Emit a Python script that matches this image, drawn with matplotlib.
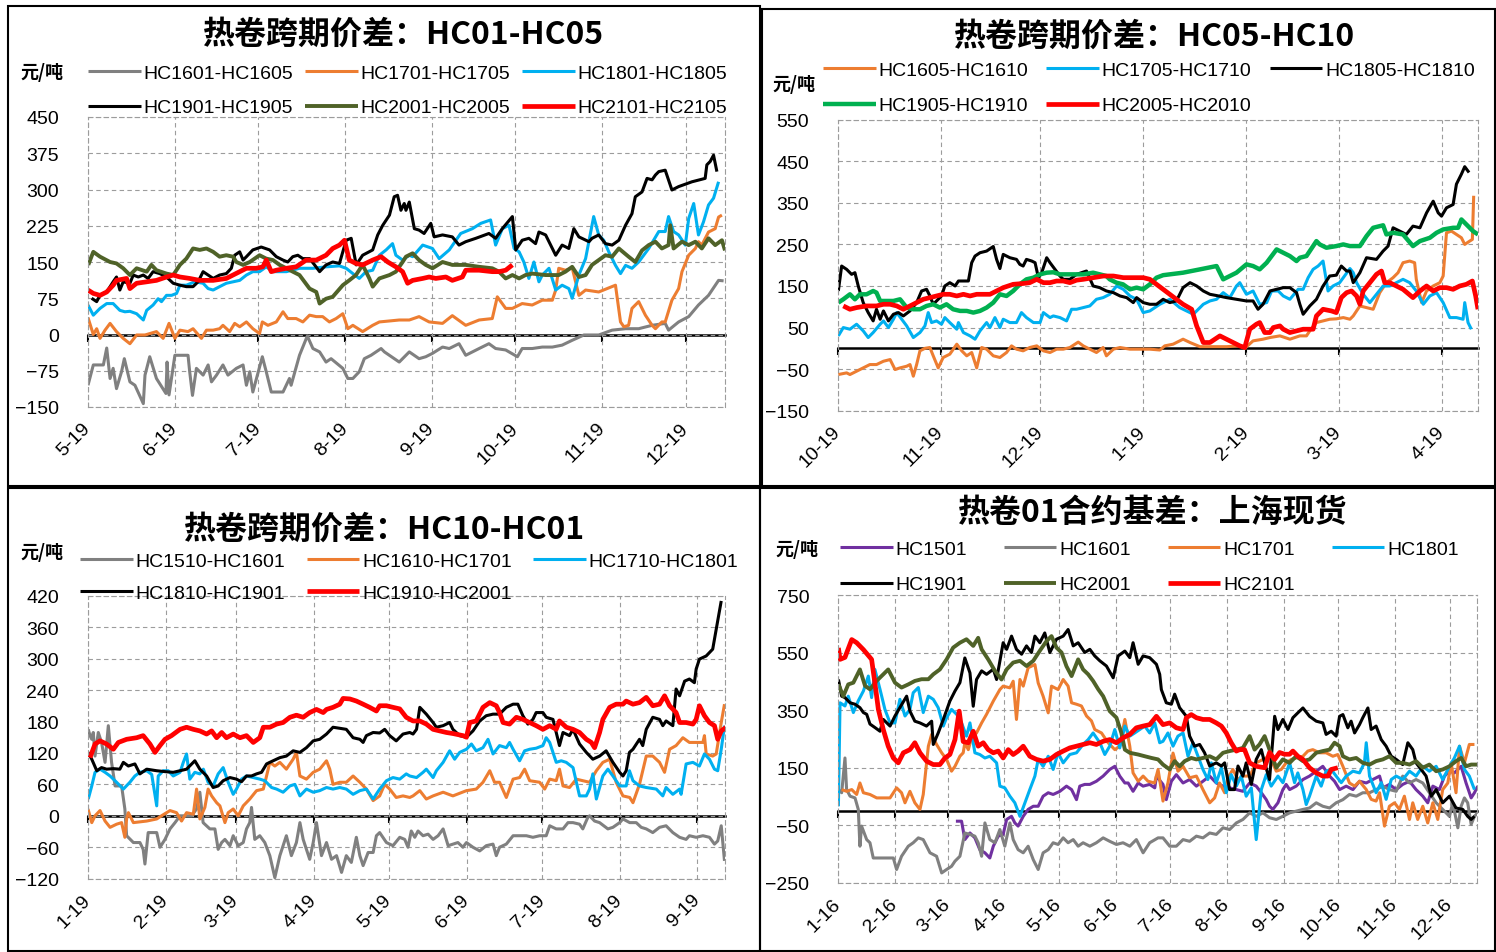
import numpy as np
import matplotlib
matplotlib.use("Agg")
import matplotlib.pyplot as plt
from matplotlib.patches import Rectangle

# ======================= DATA =======================
# ---- Panel 1: HC01-HC05 spreads, x = days since 1 May ----
P1_TITLE = "热卷跨期价差：HC01-HC05"
P1_TICK_LABELS = ["5-19", "6-19", "7-19", "8-19", "9-19", "10-19", "11-19", "12-19"]
P1_TICK_DAYS = [0, 31, 61, 92, 123, 153, 184, 214]
P1_YTICKS = [-150, -75, 0, 75, 150, 225, 300, 375, 450]
P1_NAMES = ["HC1601-HC1605", "HC1701-HC1705", "HC1801-HC1805",
            "HC1901-HC1905", "HC2001-HC2005", "HC2101-HC2105"]
P1_HC1601 = [(0,-105),(1.9,-63),(5.5,-63),(6.7,-28),(7.9,-91),(9,-70),(10.2,-112),(12,-77),(13,-50),(15,-98),
             (16.8,-105),(19.8,-143),(20.4,-84),(22.1,-46),(24.5,-91),(27.9,-122),(28.3,-57),(29,-125),(31.1,-43),
             (35.8,-43),(36.4,-77),(37.4,-126),(38.8,-70),(41.2,-84),(43,-63),(44.2,-98),(46,-84),(48.3,-63),
             (50.1,-84),(53.1,-70),(55.5,-63),(56.7,-105),(57.9,-77),(59,-119),(62.4,-46),(63.8,-77),(65.6,-119),
             (69.8,-119),(72.1,-91),(72.7,-105),(75.7,-43),(78.5,-3),(80.5,-29),(82.9,-36),(85.2,-57),(87,-50),
             (91.2,-70),(93,-91),(94.8,-91),(97.1,-77),(98.9,-50),(101.3,-43),(104.9,-29),(106.1,-36),(111.4,-57),
             (115,-36),(118.5,-50),(120.9,-46),(123.3,-39),(126.9,-26),(129.3,-29),(132.8,-19),(135.2,-43),
             (140,-29),(143.5,-19),(145.9,-29),(149.5,-32),(153.7,-46),(155.4,-29),(159,-29),(162.6,-26),
             (166.2,-26),(169.7,-22),(173.3,-12),(177.5,-1),(182.8,-1),(187.6,9),(192.4,12),(197.1,12),
             (201.9,19),(206.6,23),(207.8,9),(211.4,26),(215,37),(218.5,61),(222.1,81),(225.7,112),(227.5,111)]
P1_HC1701 = [(0,35),(1.9,0),(3.1,12),(4.3,-8),(6.1,9),(7.9,23),(10.2,6),(12.6,-8),(15,-19),(17.4,-1),(20.4,-1),
             (24.5,6),(26.9,-8),(29,23),(31.1,-8),(32.9,9),(35.8,6),(37.6,12),(40.6,-8),(42.4,9),(44.8,9),
             (47.1,12),(48.3,19),(50.7,6),(52.5,23),(54.3,16),(56.7,26),(59,12),(61.4,2),(62.4,26),(64.4,19),
             (67.4,26),(69.8,47),(71.5,33),(74.5,33),(76.9,26),(79.3,40),(81.7,37),(84,37),(86.4,26),(88.8,33),
             (91.2,43),(93,12),(94.8,19),(98.3,6),(101.9,19),(104.3,26),(107.9,28),(111.4,30),(115,30),
             (118.5,37),(122.1,26),(126.9,23),(130.4,39),(135.2,19),(140,30),(144.7,33),(146.5,78),(149.5,54),
             (151.9,54),(155.4,64),(159,61),(162.6,71),(166.2,71),(167.4,92),(168.5,137),(170.9,133),
             (173.3,138),(175.7,81),(178.1,92),(182.8,88),(188.8,102),(190.6,26),(191.8,16),(193.5,19),
             (194.7,54),(197.1,68),(199.5,40),(201.9,19),(203.1,12),(205.4,26),(206.6,26),(209,71),(211.4,95),
             (212.6,130),(215,164),(217.4,178),(218.5,192),(219.7,185),(222.1,212),(224.5,219),(225.7,243),
             (226.9,247)]
P1_HC1801 = [(0,61),(1.9,40),(4.3,54),(6.7,64),(9,64),(11.4,50),(13.2,47),(15,48),(17.4,43),(19.8,30),(21,50),
             (23.3,61),(25.1,74),(26.3,68),(28.1,81),(29.9,81),(31.7,85),(32.9,102),(35.2,102),(38.2,109),
             (41.2,106),(43,95),(44.8,92),(47.1,99),(49.5,106),(51.9,109),(54.3,112),(56.7,123),(59,130),
             (61.4,130),(63.8,140),(66.2,130),(71,130),(75.7,137),(80.5,137),(85.2,140),(90,142),(92.4,137),
             (94.8,126),(97.1,116),(99.5,130),(101.9,133),(104.3,164),(106.7,175),(109,188),(110.2,164),
             (112.6,154),(115,164),(116.2,161),(119.8,185),(123.3,178),(125.7,157),(129.3,175),(133.4,209),
             (137.6,219),(140.6,230),(144.1,237),(145.9,185),(148.3,219),(150.7,226),(152.5,178),(154.3,171),
             (156,150),(157.8,116),(159.6,150),(161.4,109),(162.6,123),(165,137),(167.4,92),(169.7,102),
             (172.1,95),(173.3,75),(175.7,123),(178.1,157),(181,244),(182.8,206),(184.6,195),(186.4,171),
             (188.8,143),(190.6,126),(192.4,143),(194.7,137),(197.1,150),(200.7,178),(204.3,213),(206.6,213),
             (207.8,244),(209.6,213),(211.4,206),(213.8,185),(215,240),(216.8,271),(218.5,206),(220.3,233),
             (222.1,268),(223.9,282),(225.7,316)]
P1_HC1901 = [(1.3,75),(3.1,68),(4.3,81),(6.7,88),(9,109),(10.2,119),(11.4,92),(12.6,109),(15,106),(16.2,123),
             (18,119),(19.8,123),(21.5,116),(23.3,130),(25.7,126),(28.1,119),(30.5,106),(32.9,102),(35.2,99),
             (37.6,99),(39.4,109),(41.2,130),(43,123),(44.8,116),(47.1,123),(49.5,126),(51.3,137),(52.5,164),
             (54.3,171),(55.5,154),(56.7,161),(59,175),(62,181),(65,175),(67.4,161),(69.8,154),(71.5,150),
             (73.3,161),(75.1,164),(76.9,157),(79.3,157),(81.1,144),(82.9,130),(85.2,144),(87.6,150),(90,147),
             (92.4,195),(94.2,199),(96,144),(98.3,164),(101.9,175),(103.7,206),(105.5,226),(107.9,247),
             (109.6,285),(110.8,288),(112,257),(113.2,271),(113.8,257),(115,274),(116.8,219),(118.5,216),
             (120.3,209),(122.7,230),(123.9,202),(126.9,206),(130.4,202),(132.8,185),(135.2,192),(138.8,199),
             (143.5,209),(145.9,199),(148.3,219),(151.9,244),(153.1,175),(155.4,195),(157.8,199),(160.2,188),
             (161.4,212),(163.8,206),(167.4,164),(169.7,185),(172.1,178),(173.9,219),(175.7,202),(179.3,192),
             (180.4,199),(182.8,206),(185.2,188),(187.6,185),(190,195),(192.4,226),(194.7,250),(195.9,285),
             (198.3,295),(200.1,323),(201.9,320),(203.1,330),(204.3,337),(206.6,340),(209,299),(211.4,306),
             (216.2,316),(220.9,323),(221.5,351),(222.7,358),(223.9,371),(225.1,337)]
P1_HC2001 = [(0.1,144),(1.9,171),(4.3,161),(7.9,150),(10.2,147),(12.6,137),(15,123),(17.4,137),(21,130),
             (22.7,144),(24.5,133),(28.1,126),(30.5,123),(32.9,144),(35.2,157),(37.6,178),(40,175),(42.4,178),
             (44.8,171),(47.1,161),(49.5,164),(51.9,161),(53.1,150),(55.5,144),(57.9,150),(61.4,164),(63.8,157),
             (66.2,154),(68.6,144),(71,137),(73.3,130),(75.7,123),(79.3,95),(81.7,88),(82.9,64),(85.2,74),
             (87.6,78),(91.2,102),(93.5,112),(95.9,123),(98.3,144),(100.7,116),(101.9,99),(104.3,116),
             (107.9,123),(110.2,130),(112.6,150),(113.8,161),(116.2,168),(118.5,154),(120.9,144),(123.3,137),
             (126.9,150),(130.4,144),(135.2,144),(140,140),(144.7,137),(147.1,130),(149.5,116),(151.9,123),
             (154.3,116),(156.6,123),(159,126),(163.8,123),(168.5,123),(170.9,130),(173.3,140),(175.7,119),
             (178.1,123),(180.4,144),(182.8,154),(185.2,164),(187.6,161),(190,178),(193.5,161),(195.9,150),
             (198.3,174),(200.7,185),(203.1,192),(205.4,178),(207.8,185),(208.4,226),(209.6,178),(212.6,192),
             (215,185),(217.4,192),(219.7,178),(222.1,199),(224.5,185),(226.9,195),(228,174)]
P1_HC2101 = [(0,92),(1.9,85),(4.3,81),(6.7,88),(9,102),(10.2,112),(13.8,116),(15,95),(17.4,106),(21,109),
             (24.5,112),(28.1,119),(30.5,123),(32.9,119),(36.4,116),(40,112),(44.8,112),(49.5,116),(51.9,123),
             (54.3,130),(56.7,137),(60.2,137),(62.6,140),(63.8,154),(65.6,130),(67.4,133),(71,137),(74.5,140),
             (78.1,154),(81.7,154),(85.2,164),(87.6,178),(90,185),(91.8,195),(93.5,154),(95.9,147),(98.3,144),
             (101.9,154),(104.9,161),(107.3,150),(110.2,140),(112.6,130),(114.4,106),(116.2,112),(119.8,116),
             (122.1,119),(124.5,116),(128.1,119),(130.4,112),(134,119),(135.2,133),(140,133),(144.7,130),
             (147.1,130),(149.5,133),(151.9,144)]

# ---- Panel 2: HC05-HC10 spreads, x = days since 1 Oct ----
P2_TITLE = "热卷跨期价差：HC05-HC10"
P2_TICK_LABELS = ["10-19", "11-19", "12-19", "1-19", "2-19", "3-19", "4-19"]
P2_TICK_DAYS = [0, 31, 61, 92, 123, 151, 182]
P2_YTICKS = [-150, -50, 50, 150, 250, 350, 450, 550]
P2_NAMES = ["HC1605-HC1610", "HC1705-HC1710", "HC1805-HC1810", "HC1905-HC1910", "HC2005-HC2010"]
P2_HC1605 = [(0.1,-63),(2.6,-59),(3.6,-63),(5.6,-55),(7.6,-47),(9.6,-39),(11.6,-39),(13.7,-31),(15.7,-27),
             (17.2,-51),(18.7,-47),(20.7,-43),(21.7,-39),(22.7,-67),(23.7,-39),(24.7,-6),(26.2,0),(27.7,2),
             (28.7,-18),(30.2,-47),(31.7,-22),(33.7,-14),(35.8,10),(37.3,-6),(38.8,-18),(40.3,-10),(41.8,-47),
             (43.3,2),(44.8,-2),(46.8,-18),(48.8,-22),(50.8,-10),(52.3,6),(53.8,-2),(55.8,-6),(57.8,2),(59.9,6),
             (61.9,-6),(63.9,-10),(65.9,-2),(67.9,-2),(69.9,2),(72.4,15),(73.9,6),(75.9,-2),(77.9,-10),(79.9,2),
             (80.9,-18),(83,-2),(85,2),(88,-2),(91,-2),(94,-2),(97,-4),(98.5,6),(101,10),(104,22),(106.1,14),
             (109.1,4),(112.1,4),(117.1,4),(121.1,6),(122.6,0),(125.1,18),(128.1,22),(130.2,26),(133.2,30),
             (136.2,22),(139.2,30),(141.2,30),(142.2,42),(144.2,62),(146.2,66),(148.2,70),(150.2,71),(152.3,74),
             (154.3,70),(155.3,78),(157.3,102),(159.3,98),(161.3,94),(163.3,134),(165.3,158),(167.3,170),
             (168.8,182),(170.3,206),(172.3,210),(173.8,206),(174.3,166),(175.9,110),(177.4,138),(179.4,150),
             (181.4,158),(182.4,174),(183.4,278),(184.9,282),(186.4,274),(187.9,266),(188.9,250),(190.4,258),
             (191.2,262),(191.6,367)]
P2_HC1705 = [(0.1,30),(1.6,50),(3.6,46),(5.6,58),(7.6,42),(9.1,26),(10.6,38),(12.7,58),(13.7,66),(15.2,50),
             (16.7,70),(17.7,86),(19.2,70),(20.7,54),(22.7,26),(24.7,38),(26.2,54),(27.2,86),(28.2,62),(29.7,66),
             (31.2,58),(32.2,74),(33.7,62),(35.8,46),(36.3,62),(37.8,38),(39.8,30),(41.3,22),(42.8,42),(44.8,62),
             (45.8,50),(47.3,74),(48.8,50),(49.8,70),(51.8,62),(53.8,62),(55.3,86),(56.8,74),(58.9,62),(60.9,62),
             (61.9,86),(63.9,74),(64.9,78),(66.9,74),(68.9,66),(70.4,94),(71.9,94),(73.9,98),(75.9,102),
             (77.9,118),(79.9,122),(81.9,130),(84,150),(86,142),(88,126),(90,118),(92,86),(94,90),(97,106),
             (100,118),(103,98),(107.1,82),(110.1,106),(112.1,114),(114.1,118),(116.1,134),(118.1,122),
             (120.1,150),(121.1,158),(123.1,130),(125.1,138),(127.1,106),(129.2,110),(130.7,138),(132.7,138),
             (134.2,126),(136.2,118),(138.7,142),(140.2,142),(141.7,170),(143.2,190),(144.7,198),(146.2,210),
             (147.7,138),(149.2,150),(151.2,158),(152.3,170),(154.3,192),(155.3,182),(156.3,158),(158.3,130),
             (160.3,110),(162.3,130),(164.3,150),(166.3,150),(168.3,158),(170.3,166),(172.3,158),(174.3,138),
             (176.4,106),(178.4,126),(180.4,134),(182.4,110),(184.4,74),(186.4,74),(188.4,70),(188.9,110),
             (189.9,62),(190.9,46)]
P2_HC1805 = [(0.1,138),(1.1,198),(2.6,190),(4.1,178),(5.1,182),(6.1,150),(7.6,110),(9.1,86),(10.6,66),(11.6,94),
             (12.7,70),(13.7,90),(15.2,66),(16.7,82),(18.2,86),(19.7,78),(21.7,90),(23.7,110),(25.2,138),
             (26.7,142),(27.7,126),(28.7,106),(29.7,114),(31.2,126),(32.2,150),(33.7,158),(35.3,150),(36.3,162),
             (37.8,162),(39.3,162),(40.3,206),(41.3,222),(42.8,230),(44.8,234),(46.8,245),(47.8,214),(48.8,192),
             (49.8,226),(51.8,218),(53.8,214),(54.8,202),(55.8,198),(56.8,214),(58.4,210),(59.4,206),(60.4,170),
             (61.4,182),(62.9,218),(63.9,206),(65.4,190),(66.9,174),(67.9,166),(69.9,166),(71.9,178),(74.9,186),
             (76.9,150),(78.9,146),(80.9,138),(83,134),(85,126),(87,122),(89,110),(90,122),(92,110),(94,106),
             (96,106),(98,118),(100,110),(102,114),(104,146),(106.1,158),(108.1,150),(110.1,138),(112.1,130),
             (114.1,127),(117.1,122),(120.1,118),(123.1,114),(125.1,114),(126.6,94),(128.1,106),(130.2,138),
             (132.2,142),(134.2,146),(136.2,146),(138.2,134),(139.2,106),(140.2,82),(142.2,102),(144.2,118),
             (146.2,150),(148.2,174),(150.2,176),(151.7,198),(153.3,186),(154.3,186),(155.3,158),(157.3,182),
             (159.3,218),(162.3,214),(164.3,234),(165.8,246),(167.3,290),(169.3,282),(171.3,274),(173.3,294),
             (175.4,290),(177.4,326),(179.4,354),(180.9,326),(181.9,318),(183.4,338),(185.4,346),(186.4,395),
             (187.9,419),(188.9,437),(190.2,423)]
P2_HC1905 = [(0.1,110),(1.6,118),(3.6,130),(5.1,118),(6.6,130),(8.6,130),(10.6,138),(11.6,134),(12.7,114),
             (14.7,114),(16.7,114),(18.7,118),(20.7,98),(22.7,94),(24.7,94),(26.7,102),(28.7,106),(30.7,98),
             (32.7,106),(34.7,94),(36.8,90),(38.8,90),(40.8,86),(42.8,90),(44.8,98),(46.8,110),(48.8,130),
             (50.8,126),(52.8,138),(54.8,154),(56.8,166),(58.9,170),(60.9,178),(62.9,182),(64.9,183),(66.9,178),
             (70.9,178),(73.9,178),(76.9,182),(78.9,178),(80.9,174),(81.9,166),(83.9,158),(85.9,154),(88,142),
             (90,146),(92,142),(94,154),(96,170),(98,176),(100,178),(104,182),(109.1,190),(114.1,198),(116.1,166),
             (118.1,174),(120.1,182),(123.1,202),(125.1,198),(127.1,190),(129.2,206),(132.2,238),(134.2,230),
             (136.2,222),(138.2,210),(139.2,218),(141.2,222),(143.2,246),(144.2,258),(145.2,250),(147.2,242),
             (150.2,246),(152.3,250),(154.3,246),(157.3,246),(159.3,270),(161.3,290),(164.3,296),(165.3,274),
             (167.3,278),(170.3,274),(173.3,246),(175.4,258),(178.4,266),(180.4,278),(182.4,286),(185.4,290),
             (186.9,290),(187.9,310),(189.4,298),(191.4,282),(192.9,274)]
P2_HC2005 = [(1.6,102),(3.6,94),(5.6,98),(8.6,102),(11.6,102),(13.7,106),(15.7,106),(17.7,102),(19.7,94),
             (21.7,102),(23.7,110),(25.7,118),(27.7,122),(29.7,126),(31.7,130),(33.7,130),(35.8,126),(37.8,130),
             (39.8,126),(41.8,130),(45.8,130),(47.8,138),(49.8,146),(52.8,154),(55.8,156),(57.8,158),(59.9,166),
             (61.9,158),(63.9,158),(65.9,162),(67.9,162),(69.9,158),(71.9,164),(73.9,166),(76.9,170),(80,174),
             (83,174),(86,170),(89,170),(92,170),(94,166),(96,154),(100,130),(104,106),(106.6,94),(108.1,54),
             (110.1,14),(112.1,14),(115.1,30),(118.1,18),(121.1,6),(122.6,2),(124.1,46),(126.1,58),(127.1,62),
             (128.6,38),(130.2,38),(131.2,50),(133.2,54),(134.2,46),(136.2,38),(138.2,42),(140.2,46),(143.2,46),
             (144.2,78),(146.2,94),(148.7,90),(150.2,86),(151.7,122),(153.3,134),(154.8,138),(156.3,126),
             (157.3,106),(158.3,138),(160.3,158),(162.3,178),(163.8,186),(164.8,158),(166.3,158),(168.3,150),
             (170.3,142),(173.3,122),(175.4,138),(177.4,150),(179.4,138),(181.4,146),(183.4,146),(185.4,142),
             (187.4,150),(189.4,154),(191.2,162),(192.2,126),(192.9,94)]

# ---- Panel 3: HC10-HC01 spreads, x = days since 1 Jan ----
P3_TITLE = "热卷跨期价差：HC10-HC01"
P3_TICK_LABELS = ["1-19", "2-19", "3-19", "4-19", "5-19", "6-19", "7-19", "8-19", "9-19"]
P3_TICK_DAYS = [0, 31, 59, 90, 120, 151, 181, 212, 243]
P3_YTICKS = [-120, -60, 0, 60, 120, 180, 240, 300, 360, 420]
P3_NAMES = ["HC1510-HC1601", "HC1610-HC1701", "HC1710-HC1801", "HC1810-HC1901", "HC1910-HC2001"]
P3_HC1510 = [(0.1,165),(0.8,153),(1.5,146),(2.1,159),(2.8,114),(4.1,159),(5.4,140),(6.8,102),(8.1,172),
             (9.4,102),(10.8,57),(13.4,57),(14.7,13),(15.4,-38),(18.1,-51),(20.7,-51),(22,-64),(22.7,-92),(24,-32),
             (26,-32),(27.4,-32),(28.7,-60),(30.7,-45),(32.7,-25),(34.7,-13),(36.7,0),(39.3,0),(41.3,0),(43.3,13),
             (44.6,45),(45.9,-13),(48.6,-25),(50.6,-25),(51.9,-64),(53.3,-51),(54.6,-45),(56.6,-57),(57.9,-38),
             (59.9,-57),(61.9,-51),(63.2,-25),(64.5,-13),(65.2,16),(66.5,-45),(68.5,-38),(70.5,-51),(72.5,-76),
             (74.5,-118),(76.5,-76),(79.1,-38),(81.1,-76),(83.1,-51),(84.5,-13),(85.8,-45),(88.4,-83),(89.8,-51),
             (91.1,-13),(93.1,-76),(95.1,-51),(97.1,-83),(99.1,-76),(101.1,-108),(103,-76),(105,-89),(107,-41),
             (108.4,-76),(109.7,-95),(111.7,-70),(113.7,-70),(115,-38),(116.3,-32),(119,-51),(121.6,-57),
             (124.3,-41),(126.3,-45),(127.6,-60),(128.9,-29),(130.3,-41),(131.6,-29),(133.6,-38),(135.6,-35),
             (137.6,-45),(139.6,-38),(141.6,-25),(143.6,-57),(145.5,-54),(147.5,-51),(149.5,-60),(150.9,-51),
             (153.5,-60),(156.2,-67),(158.8,-57),(161.5,-54),(162.8,-76),(164.1,-60),(166.8,-54),(169.5,-38),
             (172.1,-38),(174.8,-38),(177.4,-41),(180.1,-38),(182.7,-38),(184.1,-19),(186.7,-25),(189.4,-25),
             (191.4,-13),(193.4,-13),(196,-16),(197.3,-25),(199.3,-3),(200,0),(202,-10),(204,-13),(207.3,-25),
             (209.3,-22),(212,-13),(213.3,-6),(216,-13),(218.6,-13),(220.6,-22),(222.6,-25),(225.2,-32),
             (227.9,-22),(230.5,-19),(233.2,-32),(235.9,-41),(238.5,-45),(239.8,-38),(242.5,-41),(245.2,-38),
             (247.8,-41),(249.8,-54),(251.1,-48),(252.5,-19),(253.8,-86)]
P3_HC1610 = [(0,13),(1.5,-13),(2.8,0),(4.8,10),(6.8,-10),(8.8,-22),(11.4,-16),(13.4,-13),(14.7,-41),(15.4,-6),
             (16.1,6),(18.1,-13),(23.4,-10),(27.4,-6),(29.3,0),(32.7,10),(35.3,6),(37.3,-10),(39.3,6),(42,3),
             (43.3,51),(44.6,-6),(46.6,16),(47.9,51),(49.3,38),(51.3,25),(52.6,19),(54.6,-13),(55.9,6),(57.9,13),
             (59.9,0),(61.9,19),(64.5,32),(67.2,48),(69.9,51),(71.2,76),(72.5,102),(74.5,95),(76.5,102),(79.1,89),
             (81.8,108),(83.1,121),(84.5,76),(87.1,70),(89.8,83),(92.4,89),(95.1,105),(96.4,89),(97.7,60),
             (100.4,64),(103,64),(105.7,76),(108.4,64),(111,51),(113.7,29),(116.3,38),(118.3,60),(120.3,51),
             (122.9,35),(125.6,38),(128.3,35),(129.6,38),(132.3,48),(134.9,32),(137.6,38),(141.6,45),(145.5,38),
             (150.9,48),(154.8,51),(157.5,64),(160.2,86),(162.1,64),(164.1,64),(166.8,35),(169.5,70),(172.1,73),
             (174.1,89),(176.1,67),(180.1,64),(182.1,51),(184.1,70),(186.7,67),(188,89),(189.4,57),(192,54),
             (194.7,70),(197.3,67),(200,64),(202.7,86),(205.3,102),(208,108),(210.6,64),(213.3,38),(216,35),
             (217.3,25),(219.9,60),(222.6,114),(225.2,114),(227.9,102),(229.9,83),(231.9,127),(234.5,134),
             (237.2,149),(239.8,140),(242.5,140),(245.2,140),(245.8,153),(246.5,118),(249.1,114),(250.5,118),
             (252.5,178),(253.8,213)]
P3_HC1710 = [(0.1,32),(1.5,57),(2.8,83),(4.8,89),(6.8,83),(8.8,76),(11.4,64),(14.1,51),(16.7,64),(18.7,76),
             (20.7,83),(23.4,86),(25.4,79),(27.4,19),(28,76),(30,86),(32,86),(34,76),(36.7,83),(38,102),(39.3,118),
             (40.6,70),(42.6,83),(44.6,80),(46,89),(47.9,64),(49.9,57),(51.9,80),(53.9,92),(55.9,64),(57.9,41),
             (59.2,51),(61.2,70),(63.2,76),(65.9,73),(68.5,70),(70.5,67),(73.2,54),(75.2,51),(77.8,45),(80.5,57),
             (82.5,60),(84.5,38),(87.1,51),(89.8,45),(92.4,48),(95.1,54),(97.7,51),(100.4,54),(103,51),(105.7,41),
             (108.4,48),(111,51),(113.7,32),(116.3,51),(119,67),(121.6,73),(124.3,70),(126.9,80),(128.3,76),
             (131,73),(133.6,83),(134.9,89),(137.6,73),(138.9,86),(141.6,102),(144.2,124),(146.2,108),(148.2,121),
             (150.9,127),(152.9,137),(154.8,124),(157.5,130),(159.5,146),(161.5,118),(164.1,134),(166.8,130),
             (168.1,140),(169.5,127),(172.1,105),(174.1,124),(176.1,127),(178.7,129),(181.4,134),(182.7,149),
             (184.1,140),(186.7,102),(188.7,105),(190.7,102),(193.4,92),(196,38),(198.7,38),(200,51),(201.3,80),
             (202.7,32),(205.3,76),(207.3,89),(209.3,76),(212,57),(214.6,57),(215.9,86),(217.3,67),(219.9,57),
             (222.6,54),(226.6,51),(229.2,38),(230.5,54),(233.2,41),(235.9,51),(236.5,41),(238.5,99),(241.2,102),
             (243.8,95),(245.8,118),(247.8,108),(249.8,89),(251.1,86),(252.5,127),(253.8,172)]
P3_HC1810 = [(0,121),(1.5,108),(3.5,86),(5.4,92),(7.4,89),(10.1,90),(12.7,89),(14.1,102),(16.1,95),(18.7,99),
             (20.7,80),(23.4,89),(27.4,86),(31.3,84),(34,83),(36.7,86),(39.3,89),(42.6,105),(44.6,89),(47.3,76),
             (49.9,54),(51.9,57),(53.9,67),(56.6,73),(59.2,70),(61.2,65),(63.2,76),(65.2,76),(67.2,80),(69.2,83),
             (71.2,99),(73.8,105),(76.5,111),(79.1,114),(81.8,124),(84.5,121),(87.1,130),(89.8,143),(92.4,146),
             (95.1,156),(97.7,169),(100.4,167),(103,165),(105.7,149),(108.4,146),(109.7,140),(111,153),(113.7,159),
             (116.3,158),(118.3,165),(120.3,153),(122.9,143),(125.6,156),(128.3,159),(129.6,156),(131,165),
             (132.3,207),(134.9,194),(137.6,178),(138.9,169),(141.6,172),(144.2,178),(145.5,165),(148.2,153),
             (150.9,150),(153.5,162),(156.2,181),(158.8,191),(161.5,194),(164.1,194),(166.8,207),(169.5,213),
             (171.4,213),(173.4,191),(175.4,175),(177.4,184),(178.7,197),(181.4,197),(182.7,188),(185.4,184),
             (188,134),(189.4,159),(192,153),(193.4,165),(196,137),(198.7,121),(201.3,108),(204,114),(206.6,124),
             (209.3,102),(212,83),(213.3,76),(214.6,86),(215.9,121),(217.3,127),(219.9,146),(221.2,134),
             (222.6,165),(225.2,188),(227.9,184),(229.2,172),(230.5,181),(233.2,172),(234.5,242),(235.9,229),
             (237.9,257),(239.8,261),(241.8,254),(242.5,280),(243.8,299),(246.5,305),(249.1,318),(250.5,356),
             (252.5,410)]
P3_HC1910 = [(0.8,111),(2.8,137),(4.8,143),(7.4,137),(10.1,127),(12.1,140),(15.4,146),(19.4,149),(22,153),
             (24.7,137),(26.7,121),(28.7,134),(30.7,146),(33.3,153),(36.7,165),(39.3,169),(42,165),(44.6,162),
             (47.3,156),(49.3,162),(51.3,149),(53.3,159),(55.2,149),(57.9,156),(60.6,149),(63.2,153),(65.9,140),
             (68.5,149),(69.9,169),(72.5,169),(75.2,175),(77.8,178),(80.5,188),(83.1,192),(85.8,188),(88.4,197),
             (91.1,203),(93.8,197),(95.1,203),(97.7,207),(100.4,213),(101.7,224),(104.4,223),(107,219),(109.7,213),
             (112.3,207),(115,200),(116.3,210),(119,210),(121.6,207),(124.3,204),(126.9,188),(129.6,181),
             (132.3,181),(134.9,175),(137.6,165),(140.2,162),(142.9,159),(145.5,157),(149.5,153),(150.9,150),
             (152.2,178),(154.8,181),(157.5,207),(160.2,216),(162.8,210),(164.1,197),(165.5,178),(168.1,175),
             (170.8,188),(173.4,184),(176.1,178),(178.7,172),(181.4,165),(184.1,172),(186.7,165),(188,181),
             (190.7,169),(193.4,165),(196,159),(198.7,146),(200.7,140),(202,130),(204,159),(205.3,184),(208,207),
             (210.6,213),(213.3,213),(214.6,219),(217.3,213),(219.9,216),(222.6,226),(225.2,210),(227.9,213),
             (229.9,229),(231.9,210),(234.5,197),(235.9,178),(238.5,178),(241.2,175),(242.5,184),(243.8,210),
             (245.8,191),(247.8,178),(249.8,172),(251.1,146),(252.5,162),(254.5,169)]

# ---- Panel 4: HC01 basis vs Shanghai spot, x = days since 1 Jan ----
P4_TITLE = "热卷01合约基差：上海现货"
P4_TICK_LABELS = ["1-16", "2-16", "3-16", "4-16", "5-16", "6-16", "7-16", "8-16",
                  "9-16", "10-16", "11-16", "12-16"]
P4_TICK_DAYS = [0, 31, 60, 91, 121, 152, 182, 213, 244, 274, 305, 335]
P4_YTICKS = [-250, -50, 150, 350, 550, 750]
P4_NAMES = ["HC1501", "HC1601", "HC1701", "HC1801", "HC1901", "HC2001", "HC2101"]
P4_HC1501 = [(64.4,-36),(67.5,-36),(69.3,-100),(72.1,-77),(74.8,-94),(77.5,-135),(80.3,-146),(83,-164),
             (84.9,-123),(87.6,-88),(90.3,-82),(92.2,-30),(94.9,-19),(96.7,-42),(98.5,-53),(101.3,-19),(104,5),
             (106.8,16),(109.5,16),(112.2,51),(115,63),(117.7,57),(121.4,68),(125,86),(127.8,74),(130.5,39),
             (132.3,86),(135,92),(137.8,92),(141.4,103),(145.1,121),(148.7,144),(151.5,155),(154.2,121),(157,97),
             (158.8,97),(161.5,68),(164.3,97),(167,86),(170.6,92),(173.4,80),(174.3,121),(177.9,92),(179.7,39),
             (182.5,103),(185.2,126),(188.9,97),(192.5,109),(196.2,86),(199.8,103),(203.5,121),(207.1,97),
             (210.8,86),(214.4,80),(218.1,74),(221.7,68),(225.4,97),(229,86),(231.8,63),(234.5,39),(236.3,16),
             (238.1,5),(240.9,28),(243.6,74),(245.4,92),(247.3,74),(250.9,86),(254.6,109),(258.2,121),(261.9,138),
             (265.5,155),(269.2,121),(271.9,103),(274.7,74),(278.3,86),(282,74),(285.6,103),(289.3,97),(292.9,109),
             (296.6,121),(298.4,80),(302,92),(305.7,74),(309.3,92),(313,103),(316.6,74),(320.3,51),(323,28),
             (325.8,86),(329.4,74),(332.2,121),(334.9,138),(337.6,132),(341.3,155),(344,97),(346.8,45),
             (348.6,63),(350.4,86)]
P4_HC1601 = [(0,74),(1.8,63),(3.6,184),(4.5,74),(6.4,51),(9.1,45),(10.9,5),(11.8,-123),(12.7,-53),(15.5,-100),
             (17.3,-111),(19.1,-164),(24.6,-164),(30.1,-164),(31.9,-204),(34.6,-158),(38.3,-123),(41,-111),
             (43.8,-94),(46.5,-100),(50.2,-146),(53.8,-158),(56.6,-216),(59.3,-204),(62,-193),(63.9,-175),
             (66.6,-158),(69.3,-77),(72.1,-82),(74.8,-88),(76.6,-111),(78.5,-158),(80.3,-42),(83,-100),(85.8,-111),
             (88.5,-65),(91.2,-123),(94,-42),(95.8,-100),(98.5,-135),(101.3,-146),(104,-123),(106.8,-170),
             (109.5,-204),(112.2,-146),(115,-135),(117.7,-111),(120.4,-117),(123.2,-94),(125.9,-111),(128.7,-100),
             (131.4,-123),(134.1,-111),(137.8,-123),(141.4,-111),(145.1,-94),(148.7,-106),(152.4,-117),(156,-111),
             (159.7,-123),(163.3,-100),(167,-146),(170.6,-111),(175.2,-94),(177.9,-94),(181.6,-123),(185.2,-123),
             (188.9,-100),(192.5,-106),(196.2,-88),(199.8,-94),(203.5,-77),(207.1,-82),(210.8,-59),(214.4,-65),
             (218.1,-42),(221.7,-30),(225.4,-7),(229,-19),(232.7,-7),(236.3,-24),(240,-30),(243.6,-19),(247.3,-7),
             (250.9,-1),(254.6,5),(258.2,10),(261.9,28),(265.5,16),(269.2,10),(272.8,28),(276.5,39),(280.1,57),
             (283.8,51),(287.4,63),(291.1,63),(294.7,74),(298.4,86),(302,74),(305.7,68),(309.3,121),(313,97),
             (316.6,109),(320.3,97),(323.9,63),(327.6,28),(331.2,5),(334.9,-19),(336.7,28),(339.5,-59),(341.3,16),
             (343.1,45),(344.9,28),(346.8,-47),(348.6,-19),(350.4,-7)]
P4_HC1701 = [(1.8,74),(4.5,68),(7.3,74),(10,57),(11.8,97),(13.7,63),(17.3,57),(21,45),(24.6,45),(28.3,45),
             (31.9,80),(34.6,63),(36.5,28),(39.2,68),(41.9,28),(44.7,5),(46.5,57),(49.3,225),(51.1,266),(53.8,231),
             (56.6,202),(59.3,179),(62,138),(63.9,155),(66.6,190),(68.4,202),(69.3,237),(71.2,213),(73,254),
             (75.7,271),(78.5,306),(81.2,336),(84.9,382),(88.5,422),(90.3,434),(94,428),(95.8,451),(97.6,318),
             (99.5,457),(101.3,434),(104,498),(107.7,509),(109.5,445),(112.2,399),(115,341),(116.8,434),
             (120.4,422),(123.2,457),(125.9,434),(127.8,376),(130.5,371),(133.2,365),(136,330),(138.7,313),
             (140.5,283),(144.2,271),(147.8,237),(151.5,213),(154.2,225),(157,318),(159.7,225),(161.5,132),
             (164.3,103),(167,121),(169.7,103),(173.3,97),(175.2,144),(177.9,34),(180.6,97),(183.4,201),
             (186.1,138),(188.9,155),(192.5,115),(196.2,121),(199.8,74),(203.5,28),(206.2,45),(208.9,97),
             (211.7,63),(213.5,115),(216.2,144),(219,109),(221.7,121),(225.4,121),(229,167),(232.7,179),
             (236.3,190),(240,138),(242.7,144),(245.4,167),(248.2,179),(250.9,184),(254.6,190),(257.3,208),
             (260,213),(263.7,202),(267.3,202),(271,190),(273.7,196),(276.5,155),(280.1,97),(282.9,86),
             (285.6,103),(289.3,74),(292,40),(294.7,34),(296.6,63),(299.3,-53),(302,16),(304.8,28),(307.5,5),
             (310.2,51),(313,-30),(314.8,28),(317.5,-30),(320.3,16),(323,-42),(325.8,28),(328.5,-30),(331.2,74),
             (334,97),(335.8,167),(338.5,63),(340.4,225),(343.1,167),(345.8,231),(348.6,231)]
P4_HC1801 = [(0,16),(0.9,376),(3.6,365),(5.4,399),(8.2,342),(10.9,383),(13.7,417),(16.4,469),(18.2,394),
             (20,492),(22.8,423),(25.5,353),(28.3,306),(31,306),(33.7,388),(36.5,330),(39.2,353),(41,411),
             (43.8,429),(46.5,342),(49.3,399),(52,388),(54.7,359),(57.5,295),(59.3,324),(62,353),(64.8,336),
             (67.5,306),(70.2,260),(72.1,306),(74.8,202),(77.5,196),(80.3,184),(83,190),(86.7,167),(88.5,86),
             (91.2,80),(94,51),(96.7,28),(99.5,-19),(102.2,28),(104.9,74),(107.7,121),(109.5,179),(112.2,155),
             (115,190),(117.7,144),(120.4,202),(123.2,167),(126.8,196),(130.5,202),(134.1,231),(136.9,248),
             (139.6,271),(143.3,237),(146,196),(148.7,225),(151.5,283),(154.2,219),(157,295),(159.7,260),
             (162.4,271),(165.2,283),(167.9,295),(170.6,271),(173.4,306),(176.1,237),(177.9,242),(180.6,271),
             (183.4,225),(186.1,260),(188.9,271),(191.6,190),(194.3,237),(197.1,190),(199.8,144),(202.5,109),
             (204.4,167),(207.1,98),(209.9,150),(212.6,63),(215.3,126),(218.1,86),(220.8,121),(223.5,51),
             (226.3,80),(229,-100),(231.8,74),(234.5,126),(237.2,86),(240.9,121),(243.6,98),(247.3,167),(250,98),
             (251.8,132),(254.6,74),(256.4,22),(258.2,51),(261.9,121),(264.6,86),(267.3,138),(270.1,144),
             (272.8,121),(275.6,98),(278.3,121),(282,138),(285.6,132),(288.3,167),(289.3,237),(291.1,121),
             (294.7,63),(297.5,98),(300.2,40),(303,109),(305.7,121),(309.3,109),(313,138),(316.6,121),(320.3,155),
             (323.9,138),(327.6,155),(331.2,109),(334.9,155),(337.6,184),(340.4,225),(343.1,144),(345.8,121),
             (348.6,74)]
P4_HC1901 = [(0,457),(1.8,399),(3.6,394),(6.4,376),(9.1,371),(11.8,359),(13.7,342),(15.5,336),(17.3,302),
             (20,290),(22.8,277),(24.6,318),(28.3,295),(31,330),(33.7,359),(37.4,399),(39.2,347),(41.9,312),
             (44.7,306),(48.3,295),(51.1,312),(52,231),(54.7,271),(57.5,318),(61.1,382),(63.9,417),(66.6,446),
             (69.3,532),(72.1,480),(73.9,364),(75.7,457),(78.5,487),(81.2,475),(84.9,493),(86.7,457),(90.3,585),
             (92.2,562),(94.9,608),(97.6,562),(100.4,545),(103.1,574),(105.8,551),(107.7,608),(110.4,585),
             (113.1,619),(115.9,551),(119.5,597),(123.2,608),(125.9,631),(128.7,574),(131.4,585),(135,551),
             (137.8,562),(140.5,539),(143.3,522),(146.9,504),(150.6,463),(153.3,539),(157,556),(159.7,533),
             (161.5,585),(164.3,510),(167,539),(170.6,533),(174.3,510),(176.1,475),(177,422),(179.7,376),
             (182.5,371),(184.3,406),(187,359),(190.7,329),(192.5,260),(195.2,225),(198,231),(200.7,202),
             (203.5,156),(207.1,167),(209.9,156),(211.7,167),(214.4,74),(217.1,74),(219,156),(221.7,121),
             (223.5,167),(226.3,92),(229,179),(231.8,213),(233.6,167),(236.3,109),(239.1,329),(240.9,283),
             (243.6,318),(246.4,283),(249.1,324),(251.8,341),(254.6,358),(258.2,329),(261.9,312),(265.5,306),
             (267.3,266),(270.1,277),(272.8,260),(274.7,329),(276.5,335),(279.2,289),(281,312),(282.9,271),
             (285.6,300),(287.4,324),(290.2,358),(292,283),(294.7,295),(297.5,248),(300.2,225),(303,190),
             (305.7,179),(309.3,161),(312.1,237),(314.8,213),(316.6,167),(319.4,144),(322.1,121),(324.9,51),
             (327.6,74),(331.2,28),(334.9,51),(338.5,10),(342.2,5),(344.9,-19),(346.8,-30),(348.6,-19)]
P4_HC2001 = [(0,440),(2.7,399),(5.4,440),(8.2,446),(11.8,492),(14.6,435),(17.3,423),(20.9,452),(24.6,475),
             (27.3,492),(31,446),(34.6,429),(38.3,440),(41.9,452),(45.6,458),(49.3,458),(52,475),(55.6,492),
             (59.3,527),(62.9,568),(66.6,585),(70.2,597),(73.9,574),(76.6,602),(78.5,562),(82.1,527),(85.8,487),
             (89.4,457),(92.2,492),(95.8,516),(99.5,522),(103.1,504),(106.8,522),(110.4,557),(114.1,591),
             (116.8,608),(119.5,568),(122.3,551),(125,503),(127.8,469),(131.4,527),(134.1,492),(136.9,475),
             (139.6,452),(142.4,423),(145.1,399),(148.7,347),(152.4,324),(155.1,271),(157,213),(159.7,202),
             (164.3,196),(167.9,190),(171.6,184),(175.2,179),(177.9,161),(181.6,144),(184.3,173),(187,155),
             (189.8,173),(193.4,184),(196.2,179),(199.8,184),(203.5,190),(207.1,179),(210.8,202),(214.4,208),
             (218.1,213),(221.7,219),(225.4,260),(228.1,213),(230.8,231),(233.6,260),(236.3,213),(240,150),
             (243.6,179),(247.3,167),(250.9,190),(254.6,173),(258.2,179),(261.9,202),(265.5,208),(269.2,213),
             (271.9,237),(274.7,225),(276.5,190),(280.1,179),(283.8,184),(287.4,167),(291.1,161),(294.7,173),
             (298.4,179),(302,190),(305.7,167),(309.3,167),(313,161),(316.6,173),(320.3,150),(323.9,161),
             (327.6,138),(331.2,144),(334.9,155),(338.5,173),(341.3,184),(344,155),(346.8,161),(350.4,161)]
P4_HC2101 = [(0,567),(0.9,527),(3.6,534),(7.3,596),(10,585),(13.7,561),(18.2,527),(20,445),(21.9,353),
             (24.6,283),(27.3,225),(30.1,184),(32.8,167),(35.6,202),(39.2,213),(41.9,237),(44.7,202),(48.3,173),
             (52,161),(55.6,161),(58.4,184),(61.1,196),(63.9,248),(66.2,347),(68.4,241),(71.2,237),(73.9,277),
             (76.6,225),(79.4,237),(82.1,213),(84.9,202),(87.6,208),(90.3,184),(93.1,213),(95.8,196),(98.5,208),
             (101.3,225),(104.9,190),(108.6,179),(112.2,173),(115.9,179),(119.5,196),(123.2,208),(126.8,219),
             (130.5,225),(134.1,231),(137.8,237),(141.4,231),(145.1,242),(148.7,248),(152.4,237),(156,254),
             (159.7,266),(163.3,289),(167,295),(170.6,300),(174.3,329),(177.9,300),(181.6,306),(185.2,289),
             (188.9,283),(190.7,324),(193.4,335),(196.2,324),(199.8,318),(203.5,318),(207.1,306),(209.9,295),
             (212.6,271),(215.3,237),(218.1,208),(219.9,213),(222.6,213),(225.4,167),(229,155),(233.6,150),
             (236.3,203),(239.1,179),(241.8,203),(244.5,197),(247.3,197),(249.1,208),(251.8,190),(254.6,179),
             (258.2,150),(261.9,132),(265.5,121),(268.3,121),(270.1,144),(273.7,150)]

# ======================= STYLE =======================
GRAY, ORANGE, BLUE, BLACK = "#808080", "#ED7D31", "#00B0F0", "#000000"
OLIVE, RED, GREEN, PURPLE = "#4F6228", "#FF0000", "#00B050", "#7030A0"
LATIN = ["Liberation Sans", "DejaVu Sans"]
CJK = ["Noto Sans CJK SC", "DejaVu Sans"]
plt.rcParams["font.family"] = LATIN

W, H = 1496, 953
fig = plt.figure(figsize=(W / 100, H / 100), dpi=100)
fig.patch.set_facecolor("white")


def fx(px):
    return px / W


def fy(py):
    return 1 - py / H


def row_major(items, ncol):
    """Reorder legend entries so matplotlib's column-wise fill reads row by row."""
    nrow = int(np.ceil(len(items) / ncol))
    out = []
    for c in range(ncol):
        for r in range(nrow):
            i = r * ncol + c
            if i < len(items):
                out.append(items[i])
    return out


def panel(box, rect, xlim, ylim, yticks, tick_days, tick_labels, series, names, colors, lws,
          title, title_xy, unit_xy, leg_xy, ncol, colspace, labelspacing):
    bx0, by0, bx1, by1 = box
    fig.add_artist(Rectangle((fx(bx0), fy(by1)), (bx1 - bx0) / W, (by1 - by0) / H,
                             transform=fig.transFigure, fill=False, lw=1.5, ec="black"))
    x0, y0, x1, y1 = rect
    ax = fig.add_axes([fx(x0), fy(y1), (x1 - x0) / W, (y1 - y0) / H])
    ax.set_axisbelow(True)
    handles = []
    for data, name, c, lw in zip(series, names, colors, lws):
        arr = np.array(data, dtype=float)
        ln, = ax.plot(arr[:, 0], arr[:, 1], color=c, lw=lw, label=name,
                      solid_joinstyle="round", solid_capstyle="butt")
        handles.append(ln)
    ax.set_xlim(*xlim)
    ax.set_ylim(*ylim)
    ax.set_yticks(yticks)
    ax.set_xticks(tick_days)
    ax.set_xticklabels(tick_labels)
    ax.grid(True, color="#9c9c9c", ls=(0, (4, 3)), lw=0.8)
    for s in ax.spines.values():
        s.set_linestyle((0, (4, 3)))
        s.set_color("#9c9c9c")
        s.set_linewidth(0.8)
    ax.tick_params(axis="both", length=0, labelsize=14)
    ax.tick_params(axis="y", pad=21)
    ax.tick_params(axis="x", pad=13)
    for lab in ax.get_xticklabels():
        lab.set_rotation(45)
        lab.set_ha("right")
        lab.set_va("center")
        lab.set_rotation_mode("anchor")
    zero = (0 - ylim[0]) / (ylim[1] - ylim[0])
    sec = ax.secondary_xaxis(zero)
    sec.set_xticks(tick_days)
    sec.set_xticklabels([])
    sec.tick_params(axis="x", direction="out", length=5, width=1.5, color="black",
                    labelbottom=False, labeltop=False)
    for s in sec.spines.values():
        s.set_linewidth(1.8)
        s.set_color("black")
        s.set_linestyle("-")
    hs = row_major(handles, ncol)
    ax.legend(hs, [h.get_label() for h in hs], loc="upper left",
              bbox_to_anchor=(fx(leg_xy[0]), fy(leg_xy[1])),
              bbox_transform=fig.transFigure, ncol=ncol, frameon=False, fontsize=14,
              handlelength=2.7, handletextpad=0.15, columnspacing=colspace,
              borderpad=0, borderaxespad=0, labelspacing=labelspacing)
    fig.text(fx(title_xy[0]), fy(title_xy[1]), title, ha="center", va="center",
             fontsize=23, fontweight="bold", family=CJK)
    fig.text(fx(unit_xy[0]), fy(unit_xy[1]), "元/吨", ha="left", va="center",
             fontsize=13, fontweight="bold", family=CJK)
    return ax


LW = 2.2
panel((8, 7, 760, 487), (88, 118, 725, 408), (0, 228), (-150, 450), P1_YTICKS,
      P1_TICK_DAYS, P1_TICK_LABELS,
      [P1_HC1601, P1_HC1701, P1_HC1801, P1_HC1901, P1_HC2001, P1_HC2101], P1_NAMES,
      [GRAY, ORANGE, BLUE, BLACK, OLIVE, RED], [LW, LW, LW, LW, 2.8, 3.4],
      P1_TITLE, (404, 35), (20, 72), (88, 65), 3, 0.62, 0.88)

panel((762, 10, 1495, 487), (838, 120.7, 1478, 411.7), (0, 192.9), (-150, 550), P2_YTICKS,
      P2_TICK_DAYS, P2_TICK_LABELS,
      [P2_HC1605, P2_HC1705, P2_HC1805, P2_HC1905, P2_HC2005], P2_NAMES,
      [ORANGE, BLUE, BLACK, GREEN, RED], [LW, LW, LW, 3.2, 3.4],
      P2_TITLE, (1155, 37), (772, 85), (823, 62), 3, 0.93, 0.93)

panel((8, 489, 760, 952), (88, 596.7, 725, 879.7), (0, 254), (-120, 420), P3_YTICKS,
      P3_TICK_DAYS, P3_TICK_LABELS,
      [P3_HC1510, P3_HC1610, P3_HC1710, P3_HC1810, P3_HC1910], P3_NAMES,
      [GRAY, ORANGE, BLUE, BLACK, RED], [LW, LW, LW, LW, 3.4],
      P3_TITLE, (385, 530), (20, 552), (80, 553), 3, 1.1, 0.75)

panel((760, 489, 1495, 952), (838.4, 596.3, 1477, 883.7), (0, 350), (-250, 750), P4_YTICKS,
      P4_TICK_DAYS, P4_TICK_LABELS,
      [P4_HC1501, P4_HC1601, P4_HC1701, P4_HC1801, P4_HC1901, P4_HC2001, P4_HC2101], P4_NAMES,
      [PURPLE, GRAY, ORANGE, BLUE, BLACK, OLIVE, RED], [LW, LW, LW, LW, LW, 2.8, 3.4],
      P4_TITLE, (1153, 513), (775, 550), (840, 541), 4, 1.9, 0.93)

fig.savefig("out.png", dpi=100)
